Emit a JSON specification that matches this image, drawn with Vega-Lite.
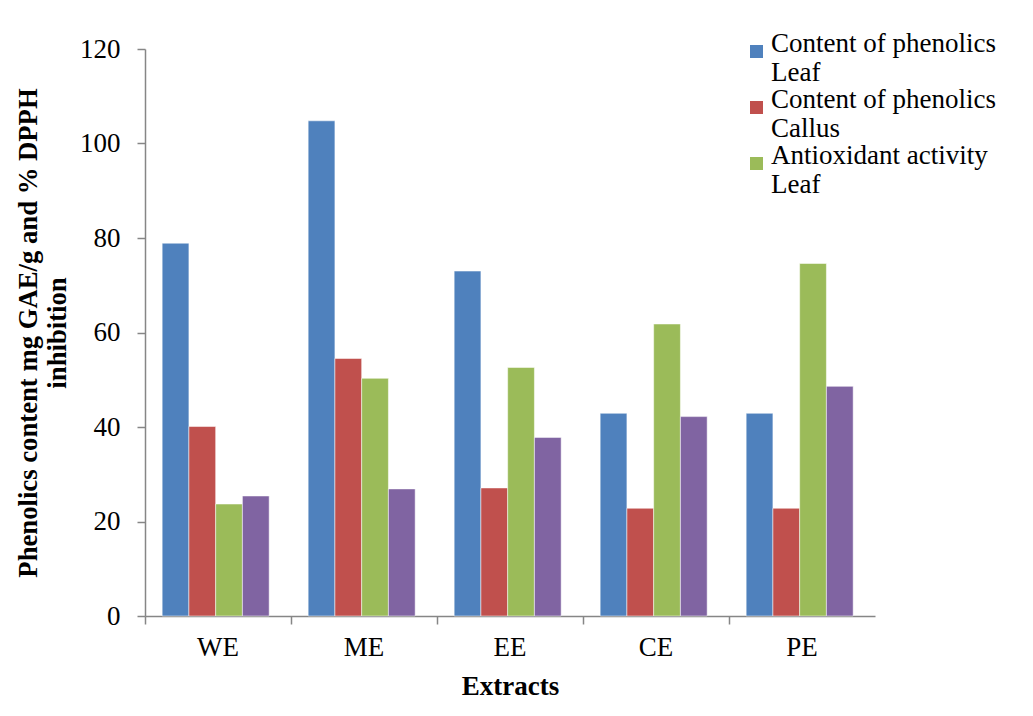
{
  "$schema": "https://vega.github.io/schema/vega-lite/v6.json",
  "width": 730,
  "height": 567,
  "autosize": "none",
  "padding": {"left": 145, "top": 49, "right": 158, "bottom": 100},
  "background": "white",
  "config": {
    "view": {"stroke": null},
    "font": "Liberation Serif"
  },
  "data": {
    "values": [
      {"extract": "WE", "series": "Content of phenolics Leaf", "value": 78.9},
      {"extract": "WE", "series": "Content of phenolics Callus", "value": 40.1},
      {"extract": "WE", "series": "Antioxidant activity Leaf", "value": 23.7},
      {"extract": "WE", "series": "Antioxidant activity Callus", "value": 25.4},
      {"extract": "ME", "series": "Content of phenolics Leaf", "value": 104.8},
      {"extract": "ME", "series": "Content of phenolics Callus", "value": 54.5},
      {"extract": "ME", "series": "Antioxidant activity Leaf", "value": 50.3},
      {"extract": "ME", "series": "Antioxidant activity Callus", "value": 26.9},
      {"extract": "EE", "series": "Content of phenolics Leaf", "value": 73.0},
      {"extract": "EE", "series": "Content of phenolics Callus", "value": 27.1},
      {"extract": "EE", "series": "Antioxidant activity Leaf", "value": 52.6},
      {"extract": "EE", "series": "Antioxidant activity Callus", "value": 37.8},
      {"extract": "CE", "series": "Content of phenolics Leaf", "value": 42.9},
      {"extract": "CE", "series": "Content of phenolics Callus", "value": 22.8},
      {"extract": "CE", "series": "Antioxidant activity Leaf", "value": 61.8},
      {"extract": "CE", "series": "Antioxidant activity Callus", "value": 42.2},
      {"extract": "PE", "series": "Content of phenolics Leaf", "value": 42.9},
      {"extract": "PE", "series": "Content of phenolics Callus", "value": 22.8},
      {"extract": "PE", "series": "Antioxidant activity Leaf", "value": 74.6},
      {"extract": "PE", "series": "Antioxidant activity Callus", "value": 48.6}
    ]
  },
  "mark": {"type": "bar", "stroke": "#ffffff", "strokeOpacity": 0.5, "strokeWidth": 1},
  "encoding": {
    "x": {
      "field": "extract",
      "type": "nominal",
      "sort": ["WE", "ME", "EE", "CE", "PE"],
      "scale": {"paddingInner": 0, "paddingOuter": 0},
      "axis": {
        "title": "Extracts",
        "titleFont": "Liberation Serif",
        "titleFontSize": 27,
        "titleFontWeight": "bold",
        "titleColor": "#000000",
        "titlePadding": 13,
        "labelFont": "Liberation Serif",
        "labelFontSize": 27,
        "labelColor": "#000000",
        "labelAngle": 0,
        "labelPadding": 10,
        "bandPosition": 0,
        "domainColor": "#868686",
        "domainWidth": 1.5,
        "tickColor": "#868686",
        "tickWidth": 1.5,
        "tickSize": 8
      }
    },
    "xOffset": {
      "field": "series",
      "type": "nominal",
      "sort": ["Content of phenolics Leaf", "Content of phenolics Callus", "Antioxidant activity Leaf", "Antioxidant activity Callus"],
      "scale": {"paddingInner": 0, "paddingOuter": 0.729, "align": 0.44}
    },
    "y": {
      "field": "value",
      "type": "quantitative",
      "scale": {"domain": [0, 120], "nice": false},
      "axis": {
        "values": [0, 20, 40, 60, 80, 100, 120],
        "grid": false,
        "title": ["Phenolics content mg GAE/g and % DPPH", "inhibition"],
        "titleFont": "Liberation Serif",
        "titleFontSize": 26.7,
        "titleFontWeight": "bold",
        "titleColor": "#000000",
        "titleLineHeight": 29,
        "titlePadding": 8,
        "labelFont": "Liberation Serif",
        "labelFontSize": 27,
        "labelColor": "#000000",
        "labelPadding": 17,
        "domainColor": "#868686",
        "domainWidth": 1.5,
        "tickColor": "#868686",
        "tickWidth": 1.5,
        "tickSize": 8
      }
    },
    "color": {
      "field": "series",
      "type": "nominal",
      "scale": {
        "domain": ["Content of phenolics Leaf", "Content of phenolics Callus", "Antioxidant activity Leaf", "Antioxidant activity Callus"],
        "range": ["#4F81BD", "#C0504D", "#9BBB59", "#8064A2"]
      },
      "legend": {
        "title": null,
        "values": ["Content of phenolics Leaf", "Content of phenolics Callus", "Antioxidant activity Leaf"],
        "orient": "none",
        "legendX": 598,
        "legendY": -11,
        "symbolType": "square",
        "symbolSize": 169,
        "symbolStrokeWidth": 0,
        "labelFont": "Liberation Serif",
        "labelFontSize": 27,
        "labelColor": "#000000",
        "labelLimit": 400,
        "labelBaseline": "alphabetic",
        "labelOffset": 1,
        "rowPadding": -1,
        "labelExpr": "[slice(datum.label, 0, lastindexof(datum.label, ' ')), slice(datum.label, lastindexof(datum.label, ' ') + 1)]",
        "encode": {
          "labels": {"update": {"lineHeight": {"value": 30}, "dy": {"value": 8}}}
        }
      }
    }
  }
}
